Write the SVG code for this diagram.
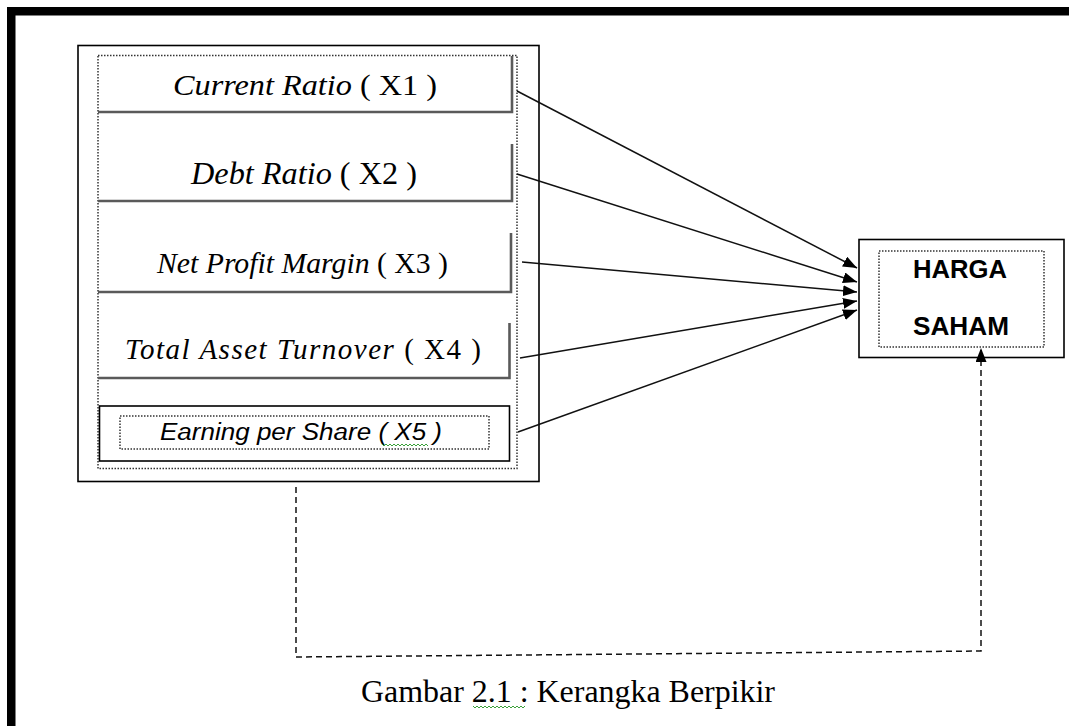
<svg xmlns="http://www.w3.org/2000/svg" width="1069" height="726" viewBox="0 0 1069 726">
  <style>
    .serif { font-family: "Liberation Serif", "Times New Roman", serif; fill: #000; }
    .it { font-style: italic; }
    .up { font-style: normal; }
    .sans { font-family: "Liberation Sans", Arial, sans-serif; fill: #000; }
    .frame { fill: #000; }
    .solid { fill: none; stroke: #000; stroke-width: 1.6; }
    .dotted { fill: none; stroke: #333; stroke-width: 1.5; stroke-dasharray: 1.5 1.5; }
    .shadow { fill: none; stroke: #5a5a5a; stroke-width: 2.6; }
    .arrow { fill: none; stroke: #111; stroke-width: 1.5; }
    .dash { fill: none; stroke: #111; stroke-width: 1.5; stroke-dasharray: 6 4; }
    .squiggle { fill: none; stroke: #3aa03a; stroke-width: 1; }
  </style>
  <defs>
    <marker id="head" markerUnits="userSpaceOnUse" markerWidth="15" markerHeight="12" refX="14" refY="5.5" orient="auto">
      <path d="M0,0 L14,5.5 L0,11 Z" fill="#000"/>
    </marker>
  </defs>

  <rect width="1069" height="726" fill="#fff"/>

  <!-- page frame: heavy rule along the top and left edge -->
  <rect class="frame" x="7" y="7" width="1062" height="8.5"/>
  <rect class="frame" x="7" y="7" width="8.5" height="719"/>

  <!-- independent variables panel -->
  <g id="variables">
    <rect class="solid" x="78" y="45.5" width="461" height="436"/>
    <rect class="dotted" x="98" y="55.5" width="419" height="413"/>
  </g>

  <g id="x1">
    <path class="shadow" d="M512,56 V112 H98"/>
    <text class="serif it" x="173" y="95" font-size="29" textLength="264" lengthAdjust="spacingAndGlyphs">Current Ratio<tspan class="up"> ( X1 )</tspan></text>
  </g>

  <g id="x2">
    <path class="shadow" d="M512,144 V201 H98"/>
    <text class="serif it" x="191" y="184" font-size="32" textLength="226" lengthAdjust="spacingAndGlyphs">Debt Ratio<tspan class="up"> ( X2 )</tspan></text>
  </g>

  <g id="x3">
    <path class="shadow" d="M511,233 V292 H98"/>
    <text class="serif it" x="157" y="273" font-size="30" textLength="291" lengthAdjust="spacingAndGlyphs">Net Profit Margin<tspan class="up"> ( X3 )</tspan></text>
  </g>

  <g id="x4">
    <path class="shadow" d="M509.5,323 V378 H98"/>
    <text class="serif it" x="125" y="359" font-size="29" textLength="356" lengthAdjust="spacing">Total Asset Turnover<tspan class="up"> ( X4 )</tspan></text>
  </g>

  <g id="x5">
    <rect class="solid" x="99.5" y="406" width="410" height="55"/>
    <rect class="dotted" x="120" y="416" width="369" height="33"/>
    <text class="sans it" x="160" y="440" font-size="23" textLength="282" lengthAdjust="spacingAndGlyphs">Earning per Share ( X5 )</text>
    <path class="squiggle" d="M382,444 l2,2 l2,-2 l2,2 l2,-2 l2,2 l2,-2 l2,2 l2,-2 l2,2 l2,-2 l2,2 l2,-2 l2,2 l2,-2 l2,2 l2,-2 l2,2 l2,-2 l2,2 l2,-2 l2,2 l2,-2 l2,2"/>
  </g>

  <!-- dependent variable -->
  <g id="harga-saham">
    <rect class="solid" x="859" y="239.5" width="205" height="118"/>
    <rect class="dotted" x="879" y="251" width="165" height="96"/>
    <text class="sans" x="913" y="278" font-size="25" font-weight="bold" textLength="94" lengthAdjust="spacingAndGlyphs">HARGA</text>
    <text class="sans" x="913" y="335" font-size="25" font-weight="bold" textLength="96" lengthAdjust="spacingAndGlyphs">SAHAM</text>
  </g>

  <!-- connectors -->
  <g id="connectors">
    <line class="arrow" x1="517" y1="91" x2="857" y2="268" marker-end="url(#head)"/>
    <line class="arrow" x1="517" y1="174" x2="857" y2="282" marker-end="url(#head)"/>
    <line class="arrow" x1="522" y1="262" x2="857" y2="292" marker-end="url(#head)"/>
    <line class="arrow" x1="520" y1="358" x2="857" y2="301" marker-end="url(#head)"/>
    <line class="arrow" x1="518" y1="432" x2="857" y2="310" marker-end="url(#head)"/>
    <path class="dash" d="M296,487 V657 L981,651 V348" marker-end="url(#head)"/>
  </g>

  <!-- caption -->
  <g id="caption">
    <text class="serif" x="361" y="702" font-size="31" textLength="414" lengthAdjust="spacingAndGlyphs">Gambar 2.1 : Kerangka Berpikir</text>
    <path class="squiggle" d="M473,706 l2,2 l2,-2 l2,2 l2,-2 l2,2 l2,-2 l2,2 l2,-2 l2,2 l2,-2 l2,2 l2,-2 l2,2 l2,-2 l2,2 l2,-2 l2,2 l2,-2 l2,2 l2,-2 l2,2 l2,-2 l2,2 l2,-2 l2,2 l2,-2"/>
  </g>
</svg>
